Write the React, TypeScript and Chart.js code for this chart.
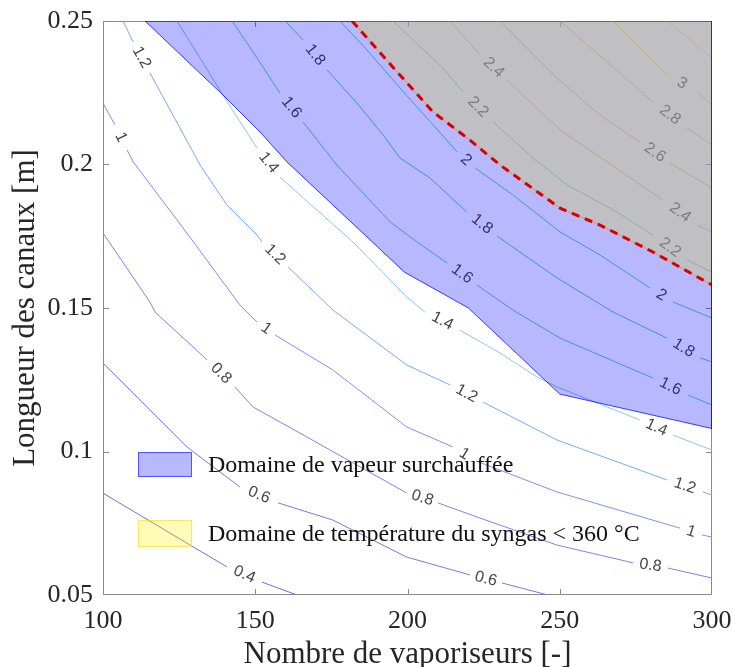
import React, { useEffect, useRef } from 'react';
import { Chart, registerables } from 'chart.js';
Chart.register(...registerables);

const xTicks = [100, 150, 200, 250, 300];
const yTicks = [0.05, 0.1, 0.15, 0.2, 0.25];
const xLabel = 'Nombre de vaporiseurs [-]';
const yLabel = 'Longueur des canaux [m]';
const legendLabels = ['Domaine de vapeur surchauffée', 'Domaine de température du syngas < 360 °C'];

const levels = [0.4, 0.6, 0.8, 1, 1.2, 1.4, 1.6, 1.8, 2, 2.2, 2.4, 2.6, 2.8, 3, 3.2];

// each contour = list of segments; a text label sits in every gap between two segments
const c04 = [[[100, 0.0855], [128.6, 0.0674], [140.7, 0.0598]], [[152.2, 0.0545], [163.7, 0.05]]];
const c06 = [[[100, 0.1308], [127.6, 0.1016], [131.9, 0.0981], [145.0, 0.0876]], [[157.5, 0.0821], [175.5, 0.0761], [199.8, 0.0632], [220.5, 0.057]], [[231.0, 0.0542], [246.1, 0.05]]];
const c08 = [[[100, 0.1761], [115.4, 0.1521], [117.1, 0.1486], [134.2, 0.1319]], [[143.3, 0.1225], [149.3, 0.1155], [164.7, 0.1064], [199.8, 0.0855]], [[210.0, 0.0821], [223.8, 0.0768], [249.1, 0.0674], [274.1, 0.0612]], [[285.5, 0.0594], [300, 0.0559]]];
const c10 = [[[100, 0.2214], [103.9, 0.2138]], [[107.9, 0.2051], [109.9, 0.2009], [126.3, 0.1779], [145.0, 0.151], [150.6, 0.1451]], [[156.5, 0.1406], [175.5, 0.1284], [199.8, 0.1085], [214.9, 0.1016]], [[222.5, 0.0967], [249.1, 0.0859], [289.5, 0.0733]], [[296.7, 0.0709], [300, 0.0702]]];
const c12 = [[[106.6, 0.25], [109.9, 0.2427]], [[115.4, 0.2319], [131.9, 0.1998], [140.7, 0.1859], [150.6, 0.1754], [152.2, 0.173]], [[160.8, 0.1643], [175.5, 0.1493], [199.8, 0.1301], [214.0, 0.1232]], [[224.8, 0.1172], [249.1, 0.104], [285.2, 0.0901]], [[297.0, 0.0859], [300, 0.0848]]];
const c14 = [[[124.3, 0.25], [139.4, 0.2242], [150.6, 0.2057]], [[158.1, 0.1956], [182.1, 0.173], [199.8, 0.1538], [205.7, 0.1486]], [[217.2, 0.1423], [230.4, 0.1343], [242.5, 0.126], [249.1, 0.1225], [276.3, 0.111]], [[287.2, 0.1057], [300, 0.1005]]];
const c16 = [[[142.4, 0.25], [150.6, 0.2371], [158.1, 0.2249]], [[165.7, 0.2148], [176.8, 0.1998], [194.3, 0.18], [203.1, 0.173], [213.0, 0.1657]], [[222.8, 0.158], [234.6, 0.1493], [250.1, 0.1395], [280.6, 0.1256]], [[292.1, 0.1197], [300, 0.1162]]];
const c18 = [[[159.8, 0.25], [165.7, 0.2434]], [[173.6, 0.2329], [183.4, 0.2214], [192.0, 0.2103], [197.5, 0.2023], [207.4, 0.1953], [219.5, 0.1834]], [[229.4, 0.1751], [236.9, 0.1695], [249.1, 0.1605], [267.5, 0.1486], [285.2, 0.1395]], [[296.1, 0.1326], [300, 0.1312]]];
const c20 = [[[177.8, 0.25], [186.7, 0.2399], [197.5, 0.2267], [208.4, 0.2138], [216.3, 0.2044]], [[222.2, 0.1988], [234.6, 0.1894], [250.1, 0.1765], [263.2, 0.1685], [279.6, 0.157]], [[287.2, 0.1521], [300, 0.1465]]];
const c22 = [[[195.2, 0.25], [211.7, 0.2336], [218.2, 0.2253]], [[228.1, 0.2148], [241.2, 0.2023], [252.4, 0.1929], [268.8, 0.1834], [280.6, 0.1754]], [[291.8, 0.1667], [300, 0.1625]]];
const c24 = [[[214.0, 0.25], [223.8, 0.2382]], [[232.7, 0.2294], [245.8, 0.2162], [251.1, 0.2113], [265.5, 0.2009], [283.9, 0.1876]], [[295.1, 0.1789], [300, 0.1765]]];
const c26 = [[[230.4, 0.25], [249.1, 0.2301], [263.2, 0.2172], [276.3, 0.2078]], [[286.2, 0.2005], [300, 0.1918]]];
const c28 = [[[250.1, 0.25], [265.5, 0.2357], [280.6, 0.2218]], [[291.8, 0.2127], [300, 0.2068]]];
const c30 = [[[267.5, 0.25], [285.2, 0.2312]], [[295.1, 0.2253], [300, 0.2207]]];
const c32 = [[[285.2, 0.25], [300, 0.2371]]];
const contours = [c04, c06, c08, c10, c12, c14, c16, c18, c20, c22, c24, c26, c28, c30, c32];

// superheated-steam domain (lower boundary) and syngas-temperature domain (lower boundary)
const vaporBoundary = [[113.8, 0.25], [139.4, 0.2242], [151.6, 0.2113], [160.4, 0.2009], [199, 0.1625], [220, 0.15], [250, 0.12], [300, 0.108]];
const syngasBoundary = [[181.8, 0.25], [197.5, 0.2312], [208.4, 0.2183], [220.5, 0.2085], [230.4, 0.1998], [250.1, 0.1848], [263.2, 0.1789], [280.6, 0.1695], [300, 0.158]];

const levelColors = [
  'rgb(118,108,215)', 'rgb(120,120,228)', 'rgb(122,132,240)', 'rgb(118,148,245)', 'rgb(115,172,245)',
  'rgb(135,200,245)', 'rgb(90,200,235)', 'rgb(80,200,220)', 'rgb(90,205,205)', 'rgb(140,205,140)',
  'rgb(210,195,110)', 'rgb(228,190,100)', 'rgb(240,200,85)', 'rgb(245,218,65)', 'rgb(245,235,55)'
];

const SERIF = '"Liberation Serif", "Times New Roman", serif';
const SANS = '"Liberation Sans", Arial, sans-serif';

const fmtLevel = (v: number) => String(+v.toFixed(2));
const toPts = (arr: number[][]) => arr.map(([x, y]) => ({ x, y }));

function contourData(segs: number[][][]) {
  const out: any[] = [];
  segs.forEach((s, i) => {
    if (i > 0) out.push({ x: s[0][0], y: null });
    s.forEach(([x, y]) => out.push({ x, y }));
  });
  return out;
}

const zeroPad = (s: any) => { s.paddingTop = 0; s.paddingBottom = 0; s.paddingLeft = 0; s.paddingRight = 0; };

const labelPlugin = {
  id: 'contourLabels',
  afterDatasetDraw(chart: any, args: any) {
    if (args.index !== 0) return;
    const { ctx } = chart;
    const xs = chart.scales.x, ys = chart.scales.y;
    ctx.save();
    ctx.font = `16px ${SANS}`;
    ctx.fillStyle = 'rgb(70,70,70)';
    ctx.textAlign = 'center';
    ctx.textBaseline = 'middle';
    contours.forEach((segs, li) => {
      for (let i = 0; i + 1 < segs.length; i++) {
        const a = segs[i][segs[i].length - 1];
        const b = segs[i + 1][0];
        const ax = xs.getPixelForValue(a[0]), ay = ys.getPixelForValue(a[1]);
        const bx = xs.getPixelForValue(b[0]), by = ys.getPixelForValue(b[1]);
        let ang = Math.atan2(by - ay, bx - ax);
        if (ang > Math.PI / 2) ang -= Math.PI;
        if (ang < -Math.PI / 2) ang += Math.PI;
        ctx.save();
        ctx.translate((ax + bx) / 2, (ay + by) / 2);
        ctx.rotate(ang);
        ctx.fillText(fmtLevel(levels[li]), 0, 0);
        ctx.restore();
      }
    });
    ctx.restore();
  }
};

const boxPlugin = {
  id: 'box',
  beforeDatasetsDraw(chart: any) {
    const { ctx, chartArea: a } = chart;
    const xs = chart.scales.x, ys = chart.scales.y;
    ctx.save();
    ctx.strokeStyle = '#8a8a8a';
    ctx.lineWidth = 1;
    ctx.strokeRect(a.left + 0.5, a.top + 0.5, a.right - a.left - 1, a.bottom - a.top - 1);
    ctx.beginPath();
    const L = 6;
    xTicks.slice(1, -1).forEach((v) => {
      const px = Math.round(xs.getPixelForValue(v)) + 0.5;
      ctx.moveTo(px, a.bottom); ctx.lineTo(px, a.bottom - L);
      ctx.moveTo(px, a.top); ctx.lineTo(px, a.top + L);
    });
    yTicks.slice(1, -1).forEach((v) => {
      const py = Math.round(ys.getPixelForValue(v)) + 0.5;
      ctx.moveTo(a.left, py); ctx.lineTo(a.left + L, py);
      ctx.moveTo(a.right, py); ctx.lineTo(a.right - L, py);
    });
    ctx.stroke();
    ctx.restore();
  }
};

const legendPlugin = {
  id: 'regionLegend',
  afterDraw(chart: any) {
    const { ctx, chartArea: a } = chart;
    ctx.save();
    const items = [
      { fill: 'rgba(0,0,255,0.28)', stroke: 'rgba(0,0,255,0.55)', y: a.top + 431, h: 25 },
      { fill: 'rgba(255,245,0,0.28)', stroke: 'rgba(245,215,40,0.6)', y: a.top + 499, h: 27 }
    ];
    items.forEach((it, i) => {
      const x = a.left + 35;
      ctx.fillStyle = it.fill;
      ctx.fillRect(x, it.y, 54, it.h);
      ctx.strokeStyle = it.stroke;
      ctx.lineWidth = 1;
      ctx.strokeRect(x + 0.5, it.y + 0.5, 53, it.h - 1);
      ctx.fillStyle = '#111';
      ctx.font = `24px ${SERIF}`;
      ctx.textAlign = 'left';
      ctx.textBaseline = 'middle';
      ctx.fillText(legendLabels[i], a.left + 105, it.y + it.h / 2 + 1);
    });
    ctx.restore();
  }
};

export default function App() {
  const ref = useRef<HTMLCanvasElement>(null);
  useEffect(() => {
    const datasets: any[] = contours.map((segs, i) => ({
      label: 'L' + fmtLevel(levels[i]),
      data: contourData(segs),
      borderColor: levelColors[i],
      borderWidth: 1,
      pointRadius: 0,
      fill: false,
      tension: 0,
      spanGaps: false,
      order: 10
    }));
    datasets.push({
      label: 'vapor',
      data: toPts(vaporBoundary),
      borderColor: 'rgba(0,0,255,0.75)',
      borderWidth: 1,
      backgroundColor: 'rgba(0,0,255,0.28)',
      fill: 'end',
      pointRadius: 0,
      tension: 0,
      order: 5
    });
    datasets.push({
      label: 'syngas',
      data: toPts(syngasBoundary),
      borderColor: 'rgba(215,150,90,0.9)',
      borderWidth: 1,
      backgroundColor: 'rgba(200,198,137,0.5)',
      fill: 'end',
      pointRadius: 0,
      tension: 0,
      order: 4
    });
    datasets.push({
      label: 'syngasLine',
      data: toPts(syngasBoundary),
      borderColor: 'rgb(215,0,0)',
      borderWidth: 3,
      borderDash: [8, 6],
      fill: false,
      pointRadius: 0,
      tension: 0,
      order: 3
    });
    datasets.push({
      label: 'vaporEdge',
      data: [
        { x: vaporBoundary[0][0], y: yTicks[yTicks.length - 1] },
        { x: xTicks[xTicks.length - 1], y: yTicks[yTicks.length - 1] },
        { x: xTicks[xTicks.length - 1], y: vaporBoundary[vaporBoundary.length - 1][1] }
      ],
      borderColor: 'rgba(0,0,255,0.75)',
      borderWidth: 1,
      fill: false,
      pointRadius: 0,
      tension: 0,
      order: 1
    });

    const chart = new Chart(ref.current!, {
      type: 'line',
      data: { datasets },
      options: {
        responsive: false,
        animation: false,
        events: [],
        layout: { padding: { top: 21, right: 23, left: 0, bottom: 0 } },
        plugins: { legend: { display: false }, tooltip: { enabled: false } },
        scales: {
          x: {
            type: 'linear',
            min: 100,
            max: 300,
            afterBuildTicks: (s: any) => { s.ticks = xTicks.map((v) => ({ value: v })); },
            afterFit: (s: any) => { s.height = 72; zeroPad(s); },
            grid: { display: false, drawTicks: false },
            border: { display: false },
            ticks: { font: { family: SERIF, size: 26 }, color: '#262626', padding: 11, maxRotation: 0, autoSkip: false },
            title: { display: true, text: xLabel, color: '#262626', font: { family: SERIF, size: 31, lineHeight: 0.8 }, padding: { top: 0, bottom: 0 } }
          },
          y: {
            type: 'linear',
            min: 0.05,
            max: 0.25,
            afterBuildTicks: (s: any) => { s.ticks = yTicks.map((v) => ({ value: v })); },
            afterFit: (s: any) => { s.width = 103; zeroPad(s); },
            grid: { display: false, drawTicks: false },
            border: { display: false },
            ticks: { font: { family: SERIF, size: 26 }, color: '#262626', padding: 10, callback: (v: any) => String(+Number(v).toFixed(2)) },
            title: { display: true, text: yLabel, color: '#262626', font: { family: SERIF, size: 31, lineHeight: 0.8 }, padding: { top: 13, bottom: 0 } }
          }
        }
      },
      plugins: [boxPlugin, labelPlugin, legendPlugin]
    } as any);
    return () => chart.destroy();
  }, []);
  return (
    <div style={{ position: 'fixed', left: 0, top: 0, width: 735, height: 667, background: '#fff' }}>
      <canvas ref={ref} width={735} height={667} style={{ display: 'block', width: 735, height: 667 }} />
    </div>
  );
}
